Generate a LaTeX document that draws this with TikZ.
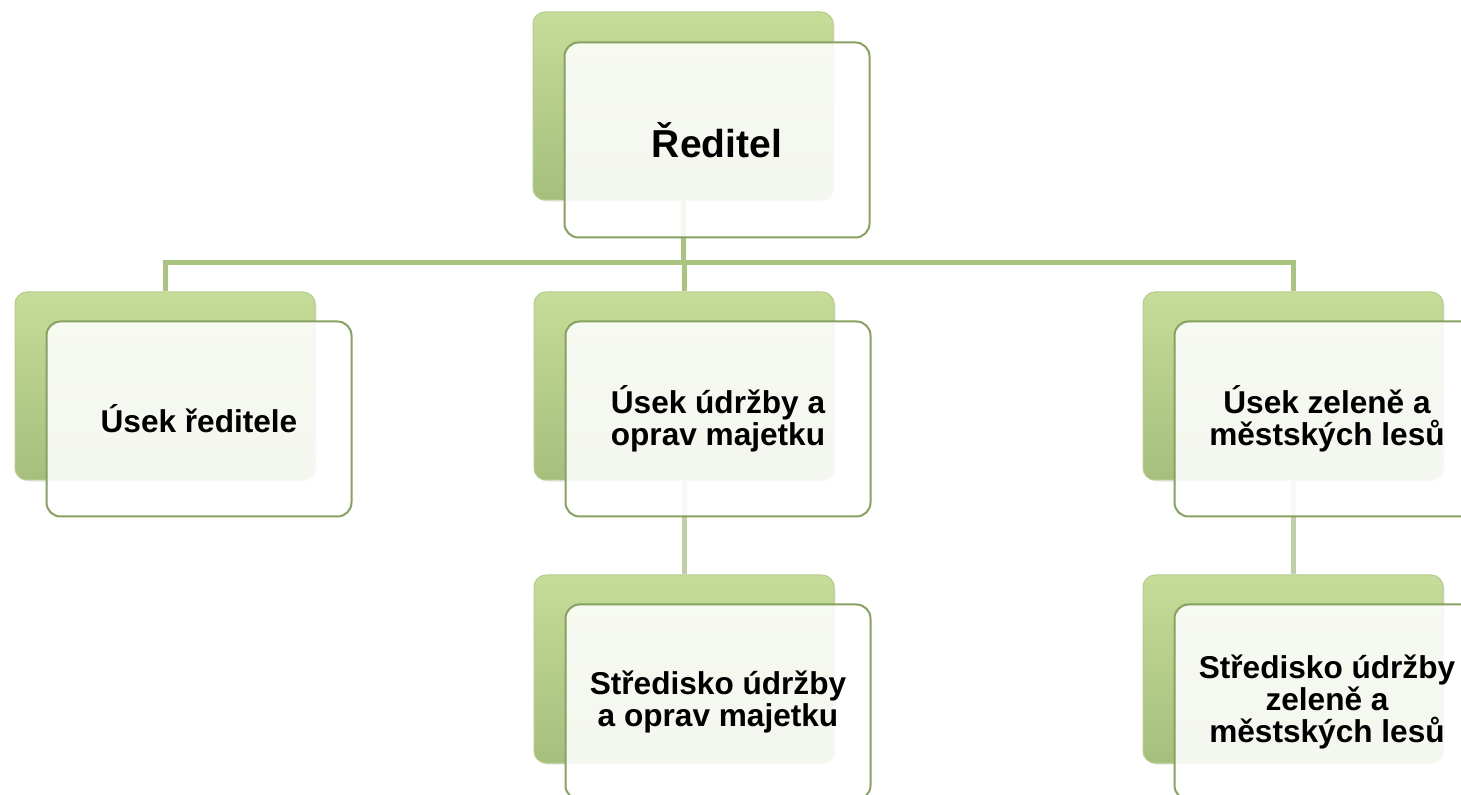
\documentclass[tikz,border=0pt]{standalone}
\usepackage{fontspec}
\setmainfont{Liberation Sans}
\usepackage{tikz}
\usetikzlibrary{shadows}

\definecolor{leaflight}{HTML}{C6DC99}
\definecolor{leafmid}{HTML}{B2CA89}
\definecolor{leafdark}{HTML}{A6BF7C}
\definecolor{leafrim}{HTML}{B5CC8C}
\definecolor{leafline}{HTML}{A8C47E}
\definecolor{leafpale}{HTML}{BFD0A8}
\definecolor{leafedge}{HTML}{86A160}

\newcommand{\bossfont}{\fontsize{19.5pt}{21pt}\selectfont\bfseries}
\newcommand{\unitfont}{\fontsize{15.8pt}{16pt}\selectfont\bfseries}

\begin{document}
\begin{tikzpicture}[x=0.5pt,y=-0.5pt,
  backbox/.style={rounded corners=6pt, minimum width=150pt, minimum height=94pt,
    top color=leaflight, middle color=leafmid, bottom color=leafdark,
    draw=leafrim, line width=0.5pt,
    drop shadow={opacity=0.18, shadow xshift=0.8pt, shadow yshift=-0.8pt}},
  frontbox/.style={rounded corners=7pt, minimum width=152.5pt, minimum height=97.5pt,
    draw=leafedge, line width=1pt, fill=white, fill opacity=0.88, text opacity=1,
    align=center, font=\unitfont},
  link/.style={draw=leafline, line width=2.5pt},
  sublink/.style={draw=leafpale, line width=2.5pt}]
\useasboundingbox (0,0) rectangle (1461,795);
\clip (0,0) rectangle (1461,795);

% green boxes behind
\node[backbox] (boss-back) at (683,106) {};
\node[backbox] (left-back) at (165,386) {};
\node[backbox] (mid-back) at (684,386) {};
\node[backbox] (right-back) at (1293,386) {};
\node[backbox] (midlow-back) at (684,669) {};
\node[backbox] (rightlow-back) at (1293,669) {};

% lines
\coordinate (bar) at (683,263);
\draw[link] (boss-back.south) -- (boss-back.south |- bar) -| (left-back.north);
\draw[link] (boss-back.south |- bar) -| (mid-back.north);
\draw[link] (boss-back.south |- bar) -| (right-back.north);
\draw[sublink] (mid-back.south) -- (midlow-back.north);
\draw[sublink] (right-back.south) -- (rightlow-back.north);

% white boxes in front
\node[frontbox, font=\bossfont] (boss) at (717,140) {Ředitel};
\node[frontbox] (left) at (199,419) {Úsek ředitele};
\node[frontbox] (mid) at (718,419) {Úsek údržby a\\oprav majetku};
\node[frontbox] (right) at (1327,419) {Úsek zeleně a\\městských lesů};
\node[frontbox] (midlow) at (718,702) {Středisko údržby\\a oprav majetku};
\node[frontbox] (rightlow) at (1327,702) {Středisko údržby\\zeleně a\\městských lesů};

\end{tikzpicture}
\end{document}
